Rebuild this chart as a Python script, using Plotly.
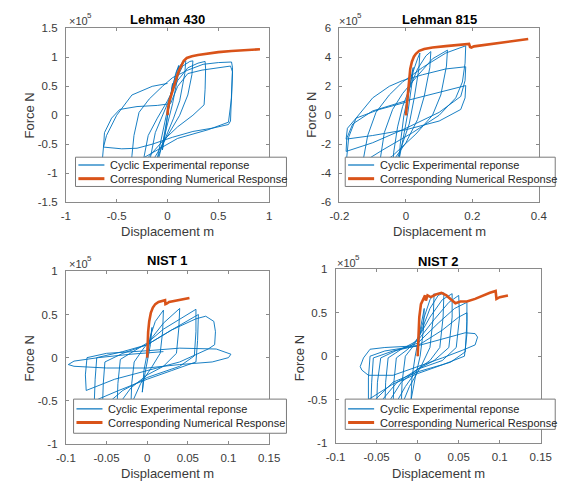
import plotly.graph_objects as go

# ---------------------------------------------------------------------------
# Force-displacement data: displacement in m, force in units of 1e5 N
# ---------------------------------------------------------------------------

# Lehman 430 - cyclic test history (disp, force)
l430_exp = [
    (0, 0), (0.02, 0.25), (0.05, 0.55), (0.04, 0.4), (0.0, 0.0), (-0.02, -0.3), (-0.05, -0.6),
    (-0.04, -0.42), (0.0, 0.0),
    (0.04, 0.4), (0.08, 0.72), (0.11, 0.86), (0.1, 0.65), (0.05, 0.2), (0.0, -0.15), (-0.05, -0.5),
    (-0.1, -0.85), (-0.11, -0.9), (-0.09, -0.65), (-0.04, -0.2), (0.0, 0.1),
    (0.05, 0.5), (0.1, 0.8), (0.15, 0.92), (0.18, 0.94), (0.17, 0.72), (0.12, 0.25), (0.06, -0.05),
    (0.0, -0.3), (-0.08, -0.65), (-0.15, -0.95), (-0.18, -1.0), (-0.17, -0.75), (-0.12, -0.3),
    (-0.05, 0.0), (0.0, 0.2),
    (0.08, 0.6), (0.15, 0.85), (0.22, 0.93), (0.25, 0.94), (0.24, 0.7), (0.2, 0.35), (0.12, 0.0),
    (0.02, -0.3), (-0.1, -0.65), (-0.2, -0.95), (-0.25, -1.05), (-0.24, -0.8), (-0.19, -0.35),
    (-0.1, -0.05), (0.0, 0.25),
    (0.1, 0.6), (0.2, 0.82), (0.3, 0.9), (0.37, 0.93), (0.375, 0.8), (0.37, 0.45), (0.36, 0.18),
    (0.25, 0.0), (0.1, -0.2), (-0.05, -0.45), (-0.2, -0.75), (-0.33, -0.95), (-0.36, -1.0),
    (-0.35, -0.7), (-0.33, -0.35), (-0.28, 0.05), (-0.18, 0.28), (-0.05, 0.5), (0.05, 0.65),
    (0.2, 0.78), (0.35, 0.88), (0.5, 0.91), (0.63, 0.92), (0.64, 0.82), (0.63, 0.4), (0.62, -0.1),
    (0.6, -0.16), (0.45, -0.22), (0.25, -0.28), (0.05, -0.38), (-0.15, -0.5), (-0.3, -0.57),
    (-0.45, -0.58), (-0.63, -0.55), (-0.62, -0.3), (-0.55, -0.05), (-0.47, 0.1), (-0.3, 0.15),
    (-0.1, 0.17), (0.03, 0.2), (0.1, 0.5), (0.2, 0.72), (0.34, 0.78), (0.5, 0.82), (0.62, 0.85),
    (0.64, 0.75), (0.63, 0.3), (0.6, -0.12), (0.4, -0.25), (0.1, -0.4), (-0.1, -0.6), (-0.3, -0.8),
    (-0.63, -0.95), (-0.64, -0.75), (-0.63, -0.55), (-0.6, -0.35), (-0.5, 0.0), (-0.35, 0.35),
    (-0.15, 0.5), (0.0, 0.55),
]
# Lehman 430 - monotonic numerical response
l430_num = [
    (0, 0), (0.005, 0.12), (0.02, 0.25), (0.04, 0.37), (0.06, 0.48), (0.08, 0.6), (0.1, 0.71),
    (0.12, 0.8), (0.14, 0.88), (0.16, 0.94), (0.19, 0.99), (0.24, 1.02), (0.3, 1.04), (0.4, 1.07),
    (0.5, 1.09), (0.63, 1.11), (0.75, 1.12), (0.91, 1.14),
]

# Lehman 815
l815_exp = [
    (0, 0), (0.008, 1.5), (0.018, 2.9), (0.022, 3.3), (0.018, 2.2), (0.006, 0.2), (-0.005, -1.2),
    (-0.015, -2.4), (-0.02, -3.0), (-0.017, -2.0), (-0.006, 0.0),
    (0.005, 1.2), (0.02, 2.9), (0.035, 3.9), (0.042, 4.3), (0.039, 3.2), (0.025, 1.2), (0.01, -0.6),
    (-0.01, -2.0), (-0.03, -3.3), (-0.04, -3.8), (-0.037, -2.6), (-0.025, -0.8), (-0.01, 0.6),
    (0.01, 1.8), (0.035, 3.2), (0.06, 4.1), (0.075, 4.4), (0.072, 3.3), (0.055, 1.3), (0.035, -0.3),
    (0.0, -1.9), (-0.04, -3.2), (-0.08, -4.2), (-0.077, -3.0), (-0.065, -1.2), (-0.04, 0.4),
    (-0.01, 1.5),
    (0.03, 2.6), (0.08, 3.9), (0.125, 4.5), (0.122, 3.4), (0.105, 1.4), (0.08, 0.0), (0.03, -1.3),
    (-0.04, -2.8), (-0.1, -3.8), (-0.13, -4.1), (-0.127, -2.9), (-0.115, -1.4), (-0.09, 0.2),
    (-0.05, 1.4), (-0.01, 2.3),
    (0.05, 3.3), (0.12, 4.3), (0.18, 4.8), (0.178, 3.6), (0.17, 2.3), (0.15, 1.2), (0.1, 0.0),
    (0.02, -1.2), (-0.07, -2.4), (-0.14, -3.4), (-0.18, -4.1), (-0.178, -2.9), (-0.172, -1.5),
    (-0.15, -0.2), (-0.1, 1.2), (-0.05, 2.0), (-0.01, 2.4),
    (0.05, 2.8), (0.12, 3.2), (0.18, 3.35), (0.178, 2.4), (0.165, 1.3), (0.1, 0.2), (0.0, -0.9),
    (-0.1, -1.9), (-0.18, -2.5), (-0.178, -1.6), (-0.16, -0.6), (-0.1, 0.3), (0.0, 1.0),
    (0.1, 1.6), (0.18, 2.05), (0.178, 1.2), (0.165, 0.4), (0.1, -0.4), (0.0, -1.0), (-0.1, -1.4),
    (-0.18, -1.65), (-0.176, -0.9), (-0.15, -0.2), (-0.08, 0.4), (0.0, 0.9),
]
l815_num = [
    (0, 0), (0.003, 0.8), (0.006, 1.7), (0.009, 2.5), (0.013, 3.2), (0.018, 3.7), (0.024, 4.05),
    (0.03, 4.25), (0.04, 4.45), (0.055, 4.58), (0.08, 4.68), (0.12, 4.78), (0.16, 4.86),
    (0.19, 4.93), (0.193, 4.72), (0.197, 4.68), (0.205, 4.76), (0.25, 4.9), (0.3, 5.05),
    (0.34, 5.17), (0.368, 5.27),
]

# NIST 1
nist1_exp = [
    (0, 0), (0.003, 0.2), (0.006, 0.35), (0.004, 0.15), (0.0, -0.05), (-0.004, -0.25),
    (-0.006, -0.4), (-0.004, -0.15), (0.0, 0.05),
    (0.004, 0.25), (0.01, 0.42), (0.02, 0.55), (0.019, 0.3), (0.016, 0.05), (0.005, -0.12),
    (-0.008, -0.3), (-0.02, -0.55), (-0.019, -0.3), (-0.016, -0.05), (-0.005, 0.1),
    (0.005, 0.22), (0.02, 0.4), (0.04, 0.57), (0.039, 0.35), (0.036, 0.05), (0.02, -0.1),
    (0.0, -0.2), (-0.02, -0.35), (-0.037, -0.57), (-0.036, -0.3), (-0.033, -0.02), (-0.015, 0.08),
    (0.0, 0.17),
    (0.02, 0.33), (0.04, 0.45), (0.06, 0.56), (0.06, 0.3), (0.058, 0.02), (0.04, -0.1),
    (0.0, -0.23), (-0.03, -0.38), (-0.055, -0.58), (-0.054, -0.3), (-0.052, -0.05), (-0.03, 0.05),
    (0.0, 0.15),
    (0.03, 0.32), (0.063, 0.5), (0.062, 0.2), (0.06, -0.05), (0.03, -0.15), (0.0, -0.25),
    (-0.035, -0.38), (-0.065, -0.5), (-0.064, -0.25), (-0.062, 0.0), (-0.03, 0.07), (0.0, 0.15),
    (0.03, 0.32), (0.06, 0.45), (0.072, 0.48), (0.082, 0.42), (0.084, 0.3), (0.083, 0.15),
    (0.075, 0.1), (0.04, -0.05), (0.0, -0.15), (-0.04, -0.25), (-0.075, -0.38), (-0.076, -0.2),
    (-0.074, 0.0), (-0.05, 0.05), (0.0, 0.08),
    (0.04, 0.11), (0.085, 0.1), (0.103, 0.04), (0.1, 0.0), (0.08, -0.05), (0.04, -0.08),
    (0.0, -0.12), (-0.05, -0.12), (-0.09, -0.1), (-0.097, -0.08), (-0.09, -0.04), (-0.06, 0.0),
    (-0.02, 0.04), (0.02, 0.07),
]
nist1_num = [
    (0, 0), (0.0005, 0.15), (0.0012, 0.3), (0.0025, 0.42), (0.0045, 0.52), (0.007, 0.58),
    (0.01, 0.62), (0.014, 0.645), (0.019, 0.66), (0.022, 0.665), (0.0225, 0.62), (0.024, 0.625),
    (0.027, 0.645), (0.033, 0.655), (0.04, 0.665), (0.046, 0.675), (0.052, 0.69),
]

# NIST 2
nist2_exp = [
    (0, 0), (0.003, 0.3), (0.008, 0.55), (0.007, 0.3), (0.003, 0.0), (-0.003, -0.25),
    (-0.008, -0.5), (-0.007, -0.25), (-0.003, 0.0),
    (0.0, 0.15), (0.008, 0.45), (0.015, 0.65), (0.02, 0.72), (0.019, 0.45), (0.015, 0.1),
    (0.005, -0.1), (-0.01, -0.35), (-0.02, -0.58), (-0.019, -0.3), (-0.015, 0.0), (-0.005, 0.12),
    (0.005, 0.3), (0.015, 0.55), (0.025, 0.7), (0.032, 0.73), (0.031, 0.45), (0.027, 0.1),
    (0.015, -0.05), (0.0, -0.15), (-0.015, -0.35), (-0.03, -0.6), (-0.029, -0.3), (-0.026, -0.02),
    (-0.012, 0.08),
    (0.0, 0.2), (0.015, 0.45), (0.03, 0.65), (0.042, 0.72), (0.042, 0.45), (0.038, 0.1),
    (0.02, -0.05), (0.0, -0.15), (-0.02, -0.3), (-0.04, -0.6), (-0.039, -0.3), (-0.036, -0.02),
    (-0.02, 0.08),
    (0.0, 0.18), (0.02, 0.42), (0.038, 0.62), (0.05, 0.7), (0.051, 0.45), (0.047, 0.1),
    (0.03, -0.05), (0.0, -0.15), (-0.025, -0.3), (-0.05, -0.58), (-0.049, -0.3), (-0.045, -0.02),
    (-0.025, 0.07),
    (0.0, 0.15), (0.025, 0.38), (0.045, 0.55), (0.06, 0.62), (0.06, 0.4), (0.058, 0.05),
    (0.04, -0.07), (0.0, -0.18), (-0.03, -0.3), (-0.057, -0.55), (-0.056, -0.3), (-0.054, -0.02),
    (-0.03, 0.06),
    (0.0, 0.12), (0.03, 0.3), (0.05, 0.45), (0.06, 0.5), (0.06, 0.25), (0.057, 0.0), (0.03, -0.1),
    (0.0, -0.2), (-0.03, -0.32), (-0.06, -0.5), (-0.06, -0.25), (-0.058, 0.0), (-0.04, 0.06),
    (0.0, 0.12), (0.03, 0.2), (0.058, 0.27), (0.07, 0.26), (0.073, 0.22), (0.07, 0.13),
    (0.055, 0.07), (0.03, -0.02), (0.0, -0.12), (-0.03, -0.22), (-0.06, -0.22), (-0.068, -0.16),
    (-0.07, -0.12), (-0.066, -0.02), (-0.058, 0.08), (-0.04, 0.1), (0.0, 0.12),
]
nist2_num = [
    (0, 0), (0.001, 0.2), (0.002, 0.45), (0.004, 0.6), (0.007, 0.67), (0.009, 0.7), (0.010, 0.64),
    (0.012, 0.7), (0.016, 0.68), (0.022, 0.71), (0.029, 0.73), (0.035, 0.7), (0.041, 0.65),
    (0.046, 0.61), (0.052, 0.63), (0.06, 0.63), (0.07, 0.66), (0.08, 0.7), (0.088, 0.73),
    (0.095, 0.75), (0.096, 0.66), (0.1, 0.68), (0.105, 0.69), (0.11, 0.7),
]

# Panel titles, series names, axis ranges and tick labels
titles = ["Lehman 430", "Lehman 815", "NIST 1", "NIST 2"]
series_names = ["Cyclic Experimental reponse", "Corresponding Numerical Response"]
x_ticks = [
    [-1, -0.5, 0, 0.5, 1],
    [-0.2, 0, 0.2, 0.4],
    [-0.1, -0.05, 0, 0.05, 0.1, 0.15],
    [-0.1, -0.05, 0, 0.05, 0.1, 0.15],
]
x_ticktext = [
    ["-1", "-0.5", "0", "0.5", "1"],
    ["-0.2", "0", "0.2", "0.4"],
    ["-0.1", "-0.05", "0", "0.05", "0.1", "0.15"],
    ["-0.1", "-0.05", "0", "0.05", "0.1", "0.15"],
]
y_ticks = [
    [-1.5, -1, -0.5, 0, 0.5, 1, 1.5],
    [-6, -4, -2, 0, 2, 4, 6],
    [-1, -0.5, 0, 0.5, 1],
    [-1, -0.5, 0, 0.5, 1],
]
y_ticktext = [
    ["-1.5", "-1", "-0.5", "0", "0.5", "1", "1.5"],
    ["-6", "-4", "-2", "0", "2", "4", "6"],
    ["-1", "-0.5", "0", "0.5", "1"],
    ["-1", "-0.5", "0", "0.5", "1"],
]

experimental = [l430_exp, l815_exp, nist1_exp, nist2_exp]
numerical = [l430_num, l815_num, nist1_num, nist2_num]

# ---------------------------------------------------------------------------
# Layout geometry (pixels on a 572 x 489 canvas)
# ---------------------------------------------------------------------------
W, H = 572, 489
boxes = [  # left, right, top, bottom
    (58, 269, 23, 201),
    (342, 549, 23, 201),
    (58, 269, 272, 449),
    (338, 551, 270, 448),
]
# legend box: left, right, top, bottom, and the two row centres
legend_boxes = [
    (68, 287, 155, 185, 163, 177),
    (348, 566, 155, 185, 163, 177),
    (66, 287, 403, 438, 413, 427),
    (348, 566, 403, 434, 413, 427),
]
title_pos = [(164, 14), (446, 14), (163, 261), (444, 262)]
exp_label_pos = [(59, 15), (339, 15), (59, 264), (337, 263)]
xlabel_pos = [(164, 231), (446, 231), (164, 479), (445, 479)]
ylabel_pos = [(20, 112), (313, 112), (20, 361), (300, 361)]

FONT = "Liberation Sans, Arial, sans-serif"
BLUE = "#0072BD"
ORANGE = "#D95319"
AXIS_GRAY = "#8a8a8a"
TEXT_GRAY = "#3a3a3a"


def px(x):
    return x / W


def py(y):
    return 1 - y / H


def paper_text(text, x, y, size, color=TEXT_GRAY, anchor="center", angle=0, weight="normal"):
    return dict(
        text=text, x=px(x), y=py(y), xref="paper", yref="paper", showarrow=False,
        xanchor=anchor, yanchor="middle", textangle=angle,
        font=dict(family=FONT, size=size, color=color, weight=weight),
    )


fig = go.Figure()
annotations = []
shapes = []
layout = {}

for i in range(4):
    sfx = "" if i == 0 else str(i + 1)
    xa, ya = "x" + sfx, "y" + sfx

    ex = [p[0] for p in experimental[i]]
    ey = [p[1] for p in experimental[i]]
    nx = [p[0] for p in numerical[i]]
    ny = [p[1] for p in numerical[i]]

    fig.add_trace(go.Scatter(
        x=ex, y=ey, mode="lines", name=series_names[0], showlegend=False,
        line=dict(color=BLUE, width=0.9), xaxis=xa, yaxis=ya,
    ))
    fig.add_trace(go.Scatter(
        x=nx, y=ny, mode="lines", name=series_names[1], showlegend=False,
        line=dict(color=ORANGE, width=2.6), xaxis=xa, yaxis=ya,
    ))

    l, r, t, b = boxes[i]
    xt, yt = x_ticks[i], y_ticks[i]
    common = dict(
        showline=True, linecolor=AXIS_GRAY, linewidth=1, mirror="ticks",
        ticks="inside", ticklen=3, tickcolor=AXIS_GRAY, tickwidth=1,
        showgrid=False, zeroline=False, fixedrange=True,
        tickfont=dict(family=FONT, size=11.5, color=TEXT_GRAY),
    )
    layout["xaxis" + sfx] = dict(
        common, domain=[px(l), px(r)], range=[xt[0], xt[-1]], anchor=ya,
        tickmode="array", tickvals=xt, ticktext=x_ticktext[i], ticklabelstandoff=3,
    )
    layout["yaxis" + sfx] = dict(
        common, domain=[py(b), py(t)], range=[yt[0], yt[-1]], anchor=xa,
        tickmode="array", tickvals=yt, ticktext=y_ticktext[i], ticklabelstandoff=5,
    )

    # legend box per panel
    lx0, lx1, ly0, ly1, row1, row2 = legend_boxes[i]
    shapes.append(dict(
        type="rect", xref="paper", yref="paper", layer="above",
        x0=px(lx0), x1=px(lx1), y0=py(ly1), y1=py(ly0),
        fillcolor="white", line=dict(color="#7a7a7a", width=1),
    ))
    for row, color, width, name in (
        (row1, BLUE, 1.2, series_names[0]),
        (row2, ORANGE, 3, series_names[1]),
    ):
        shapes.append(dict(
            type="line", xref="paper", yref="paper", layer="above",
            x0=px(lx0 + 3), x1=px(lx0 + 30), y0=py(row), y1=py(row),
            line=dict(color=color, width=width),
        ))
        annotations.append(paper_text(name, lx0 + 34, row, 11, color="#262626", anchor="left"))

    tx, ty = title_pos[i]
    annotations.append(paper_text(titles[i], tx, ty, 13, color="black", weight="bold"))

    # exponent marker of the force axis: "×10" with a raised "5"
    ex_, ey_ = exp_label_pos[i]
    annotations.append(paper_text("×10", ex_, ey_, 11, anchor="left"))
    annotations.append(paper_text("5", ex_ + 19, ey_ - 5, 8, anchor="left"))

    xlx, xly = xlabel_pos[i]
    annotations.append(paper_text("Displacement m", xlx, xly, 13))
    ylx, yly = ylabel_pos[i]
    annotations.append(paper_text("Force N", ylx, yly, 13, angle=-90))

fig.update_layout(
    width=W, height=H, margin=dict(l=0, r=0, t=0, b=0),
    paper_bgcolor="white", plot_bgcolor="white", showlegend=False,
    annotations=annotations, shapes=shapes, **layout,
)

fig.write_html("out.html")
